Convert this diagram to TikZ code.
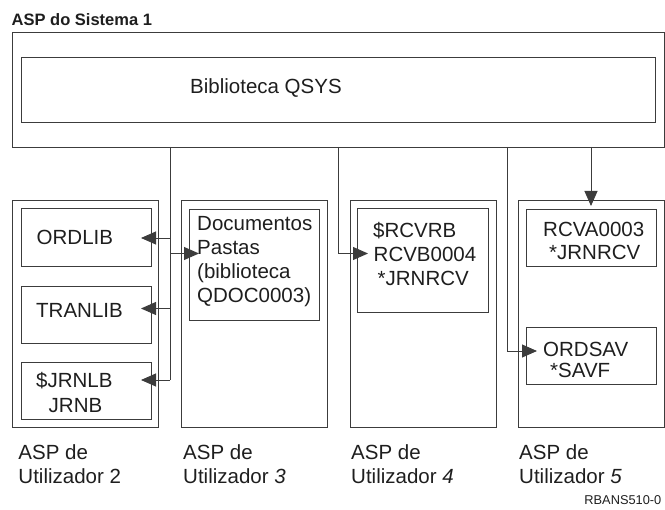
\documentclass[tikz,border=0pt]{standalone}
\usepackage{fontspec}
\setmainfont{Liberation Sans}
\usetikzlibrary{arrows.meta}
\definecolor{linec}{RGB}{60,60,60}
\definecolor{txtc}{RGB}{30,30,30}
\begin{document}
\begin{tikzpicture}[x=1pt,y=-1pt,
  box/.style={draw=linec, line width=0.9pt, inner sep=0pt, outer sep=0pt, anchor=north west},
  txt/.style={anchor=base west, inner sep=0pt, text=txtc, font=\fontsize{20.5}{24}\selectfont},
  ttl/.style={anchor=base west, inner sep=0pt, text=txtc, font=\fontsize{16.5}{19}\selectfont\bfseries},
  note/.style={anchor=base east, inner sep=0pt, text=txtc, font=\fontsize{12.8}{15}\selectfont},
  wire/.style={draw=linec, line width=0.9pt},
  arr/.style={wire, -{Triangle[length=15pt,width=13pt]}},
]
\path[use as bounding box] (0,0) rectangle (665,510);

% title and system ASP
\node[ttl] (title) at (11.5,25.5) {ASP do Sistema 1};
\node[box, minimum width=652pt, minimum height=115pt] (sys) at (12,32) {};
\node[box, minimum width=634pt, minimum height=65pt] (qsys) at (21,57) {};
\node[txt] (qsyst) at (190,93.3) {Biblioteca QSYS};

% user ASPs
\node[box, minimum width=146pt, minimum height=226.5pt] (asp2) at (12.5,200.5) {};
\node[box, minimum width=146pt, minimum height=226.5pt] (asp3) at (181,200.5) {};
\node[box, minimum width=146pt, minimum height=226.5pt] (asp4) at (350,200.5) {};
\node[box, minimum width=146pt, minimum height=226.5pt] (asp5) at (518,200.5) {};

% ASP 2 contents
\node[box, minimum width=130pt, minimum height=58pt] (ordlib) at (21,208.5) {};
\node[txt] (ordlibt) at (36.5,245) {ORDLIB};
\node[box, minimum width=130pt, minimum height=57pt] (tranlib) at (21,286) {};
\node[txt] (tranlibt) at (36,317.5) {TRANLIB};
\node[box, minimum width=130pt, minimum height=57pt] (jrnlb) at (21,362) {};
\node[txt] (jrnlbt) at (36,388) {\$JRNLB};
\node[txt] (jrnbt) at (48.5,412.5) {JRNB};

% ASP 3 contents
\node[box, minimum width=130pt, minimum height=111pt] (doc) at (189,209) {};
\node[txt] (doc1) at (197,230.5) {Documentos};
\node[txt] (doc2) at (197,254.5) {Pastas};
\node[txt] (doc3) at (197,278.5) {(biblioteca};
\node[txt] (doc4) at (197,302.5) {QDOC0003)};

% ASP 4 contents
\node[box, minimum width=131pt, minimum height=104pt] (rcvb) at (357,208.5) {};
\node[txt] (rcvb1) at (373,238) {\$RCVRB};
\node[txt] (rcvb2) at (373.5,262) {RCVB0004};
\node[txt] (rcvb3) at (377.5,285.5) {*JRNRCV};

% ASP 5 contents
\node[box, minimum width=130.5pt, minimum height=57pt] (rcva) at (526,209) {};
\node[txt] (rcva1) at (543,237) {RCVA0003};
\node[txt] (rcva2) at (549,260) {*JRNRCV};
\node[box, minimum width=130pt, minimum height=57pt] (ordsav) at (526,327) {};
\node[txt] (ordsav1) at (543,356.5) {ORDSAV};
\node[txt] (ordsav2) at (550,378) {*SAVF};

% labels
\node[txt] (l2a) at (18.3,459.5) {ASP de};
\node[txt] (l2b) at (18.3,483.5) {Utilizador 2};
\node[txt] (l3a) at (183,459.5) {ASP de};
\node[txt] (l3b) at (183,483.5) {Utilizador \textit{3}};
\node[txt] (l4a) at (351,459.5) {ASP de};
\node[txt] (l4b) at (351,483.5) {Utilizador \textit{4}};
\node[txt] (l5a) at (519,459.5) {ASP de};
\node[txt] (l5b) at (519,483.5) {Utilizador \textit{5}};
\node[note] (ref) at (661.5,504.5) {RBANS510-0};

% connectors
\coordinate (sA) at (170,147);
\coordinate (jA1) at (170,238);
\coordinate (jA2) at (170,253.5);
\coordinate (jA3) at (170,308.5);
\coordinate (jA4) at (170,380);
\coordinate (tipL) at (141,0);
\coordinate (tipDoc) at (199,253.5);
\coordinate (sB) at (338,147);
\coordinate (jB) at (338,253.5);
\coordinate (tipB) at (368,253.5);
\coordinate (sC) at (507,147);
\coordinate (jC) at (507,351);
\coordinate (tipC) at (537,351);
\coordinate (sD) at (591,147);
\coordinate (tipD) at (591,206);

\draw[wire] (sA) -- (jA4);
\draw[arr] (jA1) -- (jA1 -| tipL);
\draw[arr] (jA3) -- (jA3 -| tipL);
\draw[arr] (jA4) -- (jA4 -| tipL);
\draw[arr] (jA2) -- (tipDoc);
\draw[arr] (sB) -- (jB) -- (tipB);
\draw[arr] (sC) -- (jC) -- (tipC);
\draw[arr] (sD) -- (tipD);
\end{tikzpicture}
\end{document}
